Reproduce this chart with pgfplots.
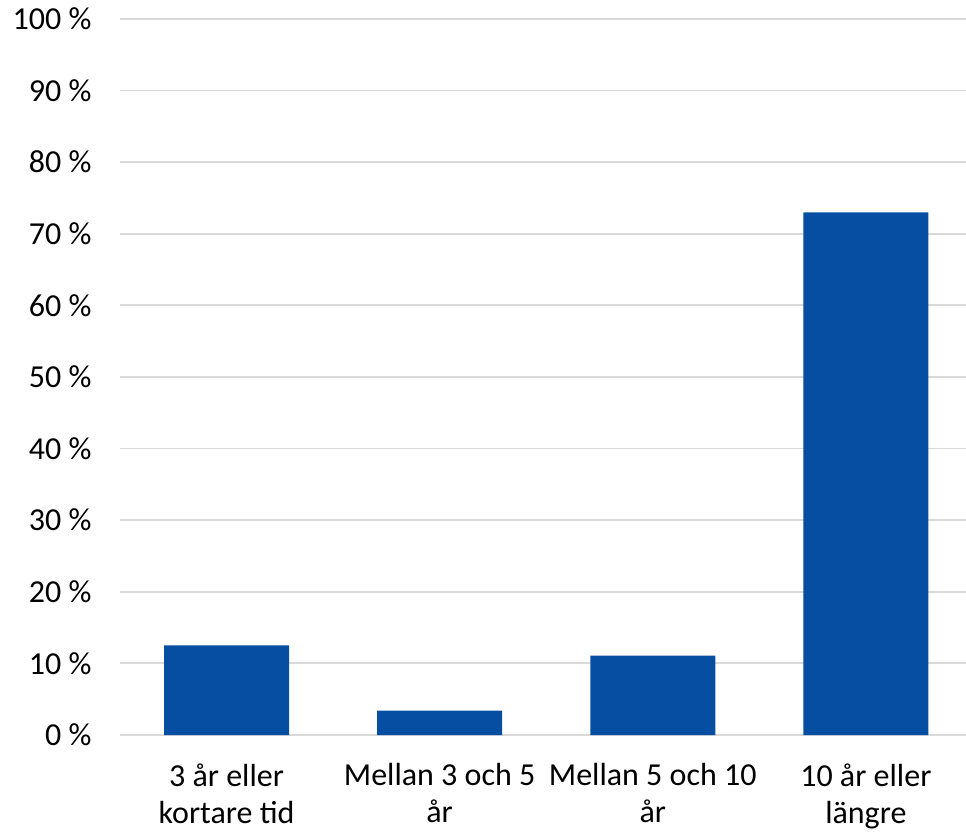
\documentclass[border=0pt]{standalone}
\usepackage{pgfplots}
\pgfplotsset{compat=1.18}
\usepackage{fontspec}
\setmainfont{Carlito}
\definecolor{barblue}{HTML}{054EA1}
\definecolor{gridgray}{HTML}{D9D9D9}

\begin{document}
\begin{tikzpicture}
\begin{axis}[
    at={(120bp,99bp)}, anchor=south west,
    scale only axis,
    width=846bp, height=716bp,
    ybar, bar width=125bp,
    xmin=-0.5, xmax=3.47,
    ymin=0, ymax=100,
    xtick=data,
    xticklabels={{3 år eller\\kortare tid},{Mellan 3 och 5\\år},{Mellan 5 och 10\\år},{10 år eller\\längre}},
    ytick={0,10,...,100},
    yticklabel={\pgfmathprintnumber{\tick}~\%},
    /pgf/number format/assume math mode=true,
    axis line style={draw=none},
    major tick length=0pt,
    ymajorgrids,
    grid style={color=gridgray, line width=1.8bp},
    tick label style={font=\fontsize{32bp}{37bp}\selectfont},
    xticklabel style={align=center, yshift=-25bp},
    yticklabel style={xshift=-25bp},
    clip=false,
]
\addplot[fill=barblue, draw=none] coordinates {
    (0, 12.5)
    (1, 3.4)
    (2, 11.1)
    (3, 73.0)
};
\end{axis}
\pgfresetboundingbox
\path[use as bounding box] (0,0) rectangle (966bp,834bp);
\end{tikzpicture}
\end{document}
